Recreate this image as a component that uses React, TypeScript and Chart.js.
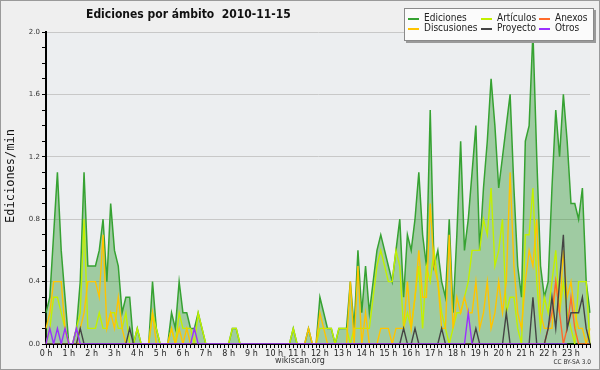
import React, { useEffect, useRef } from 'react';
import { Chart, registerables } from 'chart.js';

Chart.register(...registerables);

// ---- data (edits per minute, 10-minute slots, 2010-11-15) ----
const HOUR_LABELS = ['0 h','1 h','2 h','3 h','4 h','5 h','6 h','7 h','8 h','9 h','10 h','11 h','12 h','13 h','14 h','15 h','16 h','17 h','18 h','19 h','20 h','21 h','22 h','23 h'];
const MINUTES = ['00','10','20','30','40','50'];
const Y_TICK_LABELS = ['0.0','0.4','0.8','1.2','1.6','2.0'];
const SERIES_NAMES = ['Ediciones','Artículos','Anexos','Discusiones','Proyecto','Otros'];

const EDICIONES = [
  0.2,0.3,0.7,1.1,0.6,0.3,   // 0h
  0,0,0.1,0.4,1.1,0.5,       // 1h
  0.5,0.5,0.6,0.8,0.4,0.9,   // 2h
  0.6,0.5,0.2,0.3,0.3,0,     // 3h
  0.1,0,0,0,0.4,0.1,         // 4h
  0,0,0,0.2,0.1,0.4,         // 5h
  0.2,0.2,0.1,0.1,0.2,0.1,   // 6h
  0,0,0,0,0,0,               // 7h
  0,0.1,0.1,0,0,0,           // 8h
  0,0,0,0,0,0,               // 9h
  0,0,0,0,0,0.1,             // 10h
  0,0,0,0.1,0,0,             // 11h
  0.3,0.2,0.1,0.1,0,0.1,     // 12h
  0.1,0.1,0.4,0.1,0.6,0.2,   // 13h
  0.5,0.2,0.4,0.6,0.7,0.6,   // 14h
  0.5,0.4,0.6,0.8,0.3,0.7,   // 15h
  0.6,0.8,1.1,0.7,0.5,1.5,   // 16h
  0.5,0.6,0.4,0.3,0.8,0.2,   // 17h
  0.7,1.3,0.6,0.8,1.1,1.4,   // 18h
  0.6,1.0,1.3,1.7,1.4,1.0,   // 19h
  1.2,1.4,1.6,1.0,0.5,0.3,   // 20h
  1.3,1.4,2.0,1.2,0.5,0.3,   // 21h
  0.4,1.0,1.5,1.2,1.6,1.3,   // 22h
  0.9,0.9,0.8,1.0,0.4,0.2,   // 23h
];

const ARTICULOS = [
  0,0.1,0.3,0.3,0.2,0.1,
  0,0,0.1,0.2,0.8,0.1,
  0.1,0.1,0.2,0.1,0.1,0.2,
  0.2,0.1,0.1,0.2,0,0,
  0.1,0,0,0,0.2,0.1,
  0,0,0,0.1,0,0.2,
  0.1,0.1,0.1,0,0.2,0.1,
  0,0,0,0,0,0,
  0,0.1,0.1,0,0,0,
  0,0,0,0,0,0,
  0,0,0,0,0,0.1,
  0,0,0,0,0,0,
  0.1,0.1,0.1,0.1,0,0.1,
  0.1,0.1,0,0.1,0.1,0.1,
  0.1,0.1,0.3,0.5,0.6,0.5,
  0.4,0.4,0.6,0.5,0.1,0.2,
  0.1,0.3,0.5,0.1,0.5,0.4,
  0.6,0.4,0.2,0.1,0,0.1,
  0.2,0.2,0.3,0.4,0.6,0.6,
  0.6,0.8,0.7,1.0,0.5,0.6,
  0.8,0.2,0.3,0.3,0.1,0,
  0.7,0.7,1.0,0.4,0.1,0.3,
  0.2,0.4,0.6,0.2,0.4,0.2,
  0.1,0,0.4,0.4,0.4,0,
];

const DISCUSIONES = [
  0.1,0.2,0.4,0.4,0.4,0.1,
  0,0,0,0.1,0.2,0.4,
  0.4,0.4,0.3,0.7,0.1,0.2,
  0.1,0.3,0.1,0,0,0,
  0,0,0,0,0.2,0,
  0,0,0,0.1,0,0.1,
  0,0.1,0,0,0,0,
  0,0,0,0,0,0,
  0,0,0,0,0,0,
  0,0,0,0,0,0,
  0,0,0,0,0,0,
  0,0,0,0.1,0,0,
  0.2,0.1,0,0,0,0,
  0,0,0.4,0,0.5,0,
  0.2,0,0,0,0.1,0.1,
  0.1,0,0.1,0.1,0.1,0.4,
  0.1,0.3,0.6,0.3,0.3,0.9,
  0.5,0.4,0.1,0.1,0.7,0.1,
  0.3,0.2,0.3,0.2,0.2,0.4,
  0.1,0.2,0.4,0.1,0.2,0.4,
  0.2,0.4,1.1,0.5,0.2,0.1,
  0.4,0.6,0.5,0.8,0.2,0.1,
  0.1,0.1,0.4,0.2,0.6,0.3,
  0.4,0.2,0.1,0.1,0,0.1,
];

const ANEXOS = [
  0,0,0,0,0,0, 0,0,0,0,0,0, 0,0,0,0,0,0, 0,0,0,0,0,0,
  0,0,0,0,0,0, 0,0,0,0,0,0, 0,0,0,0,0,0, 0,0,0,0,0,0,
  0,0,0,0,0,0, 0,0,0,0,0,0, 0,0,0,0,0,0, 0,0,0,0,0,0,
  0,0,0,0,0,0, 0,0,0,0,0,0, 0,0,0,0,0,0, 0,0,0,0,0,0,
  0,0,0,0,0,0, 0,0,0,0,0,0, 0,0,0,0,0,0, 0,0,0,0,0,0,
  0,0,0,0,0,0, 0,0,0,0,0,0,
  0.1,0.2,0.4,0.2,0,0.1,     // 22h
  0.3,0.1,0,0,0,0,           // 23h
];

const PROYECTO = [
  0,0,0,0,0,0, 0,0,0,0.1,0,0, 0,0,0,0,0,0, 0,0,0,0,0.1,0,
  0,0,0,0,0,0, 0,0,0,0,0,0, 0,0,0,0,0,0, 0,0,0,0,0,0,
  0,0,0,0,0,0, 0,0,0,0,0,0, 0,0,0,0,0,0, 0,0,0,0,0,0,
  0,0,0,0,0,0, 0,0,0,0,0,0, 0,0,0,0,0,0,
  0,0,0,0,0.1,0,             // 15h
  0,0.1,0,0,0,0,             // 16h
  0,0,0.1,0,0,0,             // 17h
  0,0,0,0,0,0.1,             // 18h
  0,0,0,0,0,0,               // 19h
  0,0.2,0,0,0,0,             // 20h
  0,0,0.3,0,0,0,             // 21h
  0.1,0.3,0.1,0.4,0.7,0.1,   // 22h
  0.2,0.2,0.2,0.3,0.1,0,     // 23h
];

const OTROS = [
  0,0.1,0,0.1,0,0.1, 0,0,0.1,0,0,0, 0,0,0,0,0,0, 0,0,0,0,0,0,
  0,0,0,0,0,0, 0,0,0,0,0,0, 0,0,0,0.1,0,0, 0,0,0,0,0,0,
  0,0,0,0,0,0, 0,0,0,0,0,0, 0,0,0,0,0,0, 0,0,0,0,0,0,
  0,0,0,0,0,0, 0,0,0,0,0,0, 0,0,0,0,0,0, 0,0,0,0,0,0,
  0,0,0,0,0,0, 0,0,0,0,0,0,
  0,0,0,0.2,0,0,             // 19h
  0,0,0,0,0,0, 0,0,0,0,0,0, 0,0,0,0,0,0, 0,0,0,0,0,0,
];

const COLORS = {
  ediciones: '#36a232',
  edicionesFill: 'rgba(45,150,45,0.40)',
  articulos: '#c2f000',
  anexos: '#ff6a2a',
  discusiones: '#ffc400',
  proyecto: '#444444',
  otros: '#9b30ff',
};

const SLOT_LABELS: string[] = [];
HOUR_LABELS.forEach((h, hi) => MINUTES.forEach((m) => SLOT_LABELS.push(`${hi}:${m}`)));

const FONT = "'DejaVu Sans', sans-serif";
const FONT_C = "'DejaVu Sans Condensed', 'DejaVu Sans', sans-serif";

const plotBg = {
  id: 'plotBg',
  beforeDraw(chart: any) {
    const { ctx, chartArea: a } = chart;
    ctx.save();
    ctx.fillStyle = '#eceef0';
    ctx.fillRect(a.left, a.top, a.right - a.left, a.bottom - a.top);
    ctx.restore();
  },
};

function line(label: string, data: number[], color: string, order: number) {
  return {
    label, data, borderColor: color, backgroundColor: color, borderWidth: 1.4,
    pointRadius: 0, tension: 0, fill: false, order,
  };
}

export default function App() {
  const ref = useRef<HTMLCanvasElement | null>(null);
  useEffect(() => {
    if (!ref.current) return;
    const chart = new Chart(ref.current, {
      type: 'line',
      data: {
        labels: SLOT_LABELS,
        datasets: [
          {
            label: SERIES_NAMES[0], data: EDICIONES, borderColor: COLORS.ediciones,
            backgroundColor: COLORS.edicionesFill, borderWidth: 1.5, pointRadius: 0,
            tension: 0, fill: 'origin', order: 10,
          } as any,
          line(SERIES_NAMES[1], ARTICULOS, COLORS.articulos, 5),
          line(SERIES_NAMES[3], DISCUSIONES, COLORS.discusiones, 4),
          line(SERIES_NAMES[2], ANEXOS, COLORS.anexos, 3),
          line(SERIES_NAMES[4], PROYECTO, COLORS.proyecto, 2),
          line(SERIES_NAMES[5], OTROS, COLORS.otros, 1),
        ],
      },
      options: {
        animation: false,
        responsive: true,
        maintainAspectRatio: false,
        layout: { padding: { top: 32, right: 10, left: 0, bottom: 0 } },
        plugins: { legend: { display: false }, title: { display: false }, tooltip: { enabled: false } },
        scales: {
          x: {
            type: 'category',
            offset: false,
            grid: { display: true, drawOnChartArea: false, drawTicks: true, tickLength: 4, tickColor: '#000', tickWidth: 1 },
            border: { display: true, color: '#000', width: 2 },
            ticks: {
              autoSkip: false, maxRotation: 0, minRotation: 0, padding: 1,
              color: '#222', font: { family: FONT, size: 8 },
              callback: (_v: any, i: number) => (i % 6 === 0 ? HOUR_LABELS[i / 6] : ''),
            },
            afterFit: (s: any) => { s.height = 26; },
          },
          y: {
            min: 0, max: 2,
            grid: {
              color: (c: any) => {
                const k = Math.round((c.tick?.value ?? 0) * 10);
                return k > 0 && k % 4 === 0 ? '#c8c8c8' : 'rgba(0,0,0,0)';
              },
              lineWidth: 1, drawTicks: true, tickLength: 4, tickColor: '#000', tickWidth: 1,
            },
            border: { display: true, color: '#000', width: 2 },
            ticks: {
              stepSize: 0.1, autoSkip: false, padding: 2, color: '#333',
              font: { family: FONT, size: 7 },
              callback: (v: any) => {
                const k = Math.round(Number(v) * 10);
                return k % 4 === 0 ? Y_TICK_LABELS[k / 4] : '';
              },
            },
            afterFit: (s: any) => { s.width = 46; },
          },
        },
      } as any,
      plugins: [plotBg],
    });
    return () => chart.destroy();
  }, []);

  const legendItems = [
    { name: SERIES_NAMES[0], color: COLORS.ediciones, x: 408, y: 19 },
    { name: SERIES_NAMES[1], color: COLORS.articulos, x: 481, y: 19 },
    { name: SERIES_NAMES[2], color: COLORS.anexos, x: 539, y: 19 },
    { name: SERIES_NAMES[3], color: COLORS.discusiones, x: 408, y: 29 },
    { name: SERIES_NAMES[4], color: COLORS.proyecto, x: 481, y: 29 },
    { name: SERIES_NAMES[5], color: COLORS.otros, x: 539, y: 29 },
  ];

  return (
    <div style={{ position: 'fixed', left: 0, top: 0, width: 600, height: 370, background: '#efefef', overflow: 'hidden' }}>
      <canvas ref={ref} width={600} height={370} style={{ position: 'absolute', left: 0, top: 0, width: 600, height: 370 }} />
      <div style={{ position: 'absolute', left: 0, top: 0, width: 600, height: 370, boxSizing: 'border-box', border: '1px solid #9a9a9a', pointerEvents: 'none' }} />
      <div style={{ position: 'absolute', left: 86, top: 7, fontFamily: FONT_C, fontWeight: 'bold', fontSize: 12, color: '#111', whiteSpace: 'pre', lineHeight: '15px' }}>
        {'Ediciones por ámbito  2010-11-15'}
      </div>
      <div style={{ position: 'absolute', left: 10, top: 176, transform: 'translate(-50%, -50%) rotate(-90deg)', fontFamily: "'DejaVu Sans Mono', monospace", fontSize: 12, color: '#111', whiteSpace: 'nowrap', lineHeight: '14px' }}>
        Ediciones/min
      </div>
      <div style={{ position: 'absolute', left: 404, top: 8, width: 188, height: 31, background: '#fbfbfb', border: '1px solid #8a8a8a', boxShadow: '2px 2px 0 #9a9a9a' }} />
      {legendItems.map((it) => (
        <React.Fragment key={it.name}>
          <div style={{ position: 'absolute', left: it.x, top: it.y - 1, width: 11, height: 1.5, background: it.color }} />
          <div style={{ position: 'absolute', left: it.x + 16, top: it.y - 7, fontFamily: FONT_C, fontSize: 10, lineHeight: '12px', color: '#222', whiteSpace: 'nowrap' }}>
            {it.name}
          </div>
        </React.Fragment>
      ))}
      <div style={{ position: 'absolute', left: 300, top: 355, transform: 'translateX(-50%)', fontFamily: FONT, fontSize: 8, lineHeight: '12px', color: '#333', whiteSpace: 'nowrap' }}>
        wikiscan.org
      </div>
      <div style={{ position: 'absolute', right: 9, top: 357, fontFamily: FONT_C, fontSize: 6.5, lineHeight: '10px', color: '#333', whiteSpace: 'nowrap' }}>
        CC BY-SA 3.0
      </div>
    </div>
  );
}
